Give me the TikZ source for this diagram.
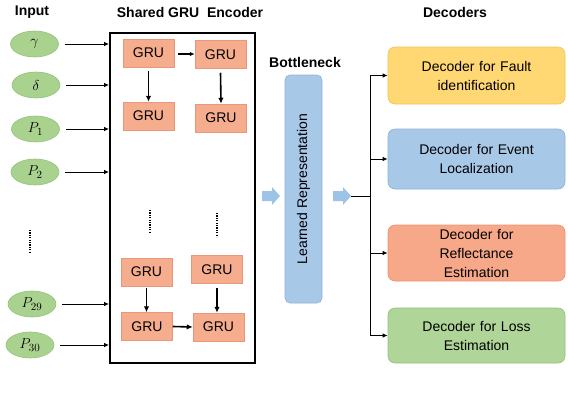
\documentclass[tikz,border=0pt]{standalone}
\usepackage{fontspec}
\setmainfont{Liberation Sans}
\usetikzlibrary{shapes.geometric,arrows.meta}
\definecolor{gruf}{HTML}{F6AD8E}
\definecolor{grud}{HTML}{E9977B}
\definecolor{elf}{HTML}{AAD28F}
\definecolor{eld}{HTML}{93C27B}
\definecolor{ylf}{HTML}{FFD873}
\definecolor{yld}{HTML}{F2C453}
\definecolor{blf}{HTML}{A8C8E8}
\definecolor{bld}{HTML}{8BB2DA}
\definecolor{saf}{HTML}{F6A889}
\definecolor{sad}{HTML}{E99371}
\definecolor{grf}{HTML}{B0D598}
\definecolor{grd}{HTML}{94C17B}
\definecolor{arrf}{HTML}{9DC3E6}
\begin{document}
\begin{tikzpicture}[x=1pt,y=-1pt,
  font=\fontsize{14}{19}\selectfont,
  inp/.style={ellipse, fill=elf, draw=eld, line width=0.6pt, minimum width=48pt, minimum height=26pt, inner sep=0pt, font=\fontsize{15}{17}\selectfont},
  gru/.style={rectangle, fill=gruf, draw=grud, line width=0.5pt, minimum width=51pt, minimum height=28pt, inner sep=0pt},
  dec/.style={rectangle, rounded corners=7pt, minimum width=177pt, minimum height=57pt, align=center, line width=0.6pt, text width=165pt, inner sep=0pt},
  inarr/.style={-{Latex[length=5pt,width=4.5pt]}, line width=1pt},
  grar/.style={-{Latex[length=6pt,width=5.5pt]}, line width=1.6pt},
  title/.style={font=\fontsize{14}{16}\selectfont\bfseries},
  dotline/.style={line width=1.8pt, dash pattern=on 1.2pt off 1.2pt}
]
\useasboundingbox (0,0) rectangle (568,402);

% titles
\node[title] (tin) at (32,12) {Input};
\node[title] (tenc) at (190,12) {Shared GRU\ \ Encoder};
\node[title] (tbot) at (305,62) {Bottleneck};
\node[title] (tdec) at (455,12) {Decoders};

% encoder box
\node[draw, line width=1.8pt, minimum width=145pt, minimum height=330pt, inner sep=0pt] (enc) at (182.5,198) {};

% inputs
\node[inp] (g) at (34.5,44) {$\gamma$};
\node[inp] (d) at (36,85) {$\delta$};
\node[inp] (p1) at (35.5,129) {$P_1$};
\node[inp] (p2) at (35,172) {$P_2$};
\node[inp] (p29) at (32,304) {$P_{29}$};
\node[inp] (p30) at (30,345) {$P_{30}$};
\draw[dotline] (30,230) -- (30,252);

\foreach \n in {g,d,p1,p2,p29,p30}
  \draw[inarr] ([xshift=6pt]\n.east) -- (\n.east -| enc.west);

% GRU cells
\node[gru] (c1) at (148.5,53) {GRU};
\node[gru] (c2) at (220.5,54.5) {GRU};
\node[gru] (c3) at (148.5,116) {GRU};
\node[gru] (c4) at (221,118) {GRU};
\node[gru] (c5) at (146.5,272) {GRU};
\node[gru] (c6) at (217,269.5) {GRU};
\node[gru] (c7) at (147,326.5) {GRU};
\node[gru] (c8) at (218.5,327) {GRU};

\draw[inarr, line width=1.3pt] ([xshift=4pt,yshift=-1pt]c1.east) -- ([yshift=-1pt]c1.east -| c2.west);
\draw[grar] ([yshift=-4pt]c1.south) -- (c3.north);
\draw[grar] ([yshift=-4pt]c2.south) -- (c4.north);
\draw[grar] ([yshift=-2pt]c5.south) -- (c5.south |- c7.north);
\draw[grar] ([yshift=-4pt]c6.south) -- (c6.south |- c8.north);
\draw[grar] (c7.east) -- (c8.west);
\draw[dotline] (150,210) -- (150,233);
\draw[dotline] (217,213) -- (217,237);

% bottleneck
\coordinate (a1) at (262,196);
\fill[arrf, shift={(a1)}] (0,-5) -- (10,-5) -- (10,-9) -- (18,0) -- (10,9) -- (10,5) -- (0,5) -- cycle;
\node[rectangle, rounded corners=5pt, fill=blf, draw=bld, line width=0.6pt, rotate=90, minimum width=228pt, minimum height=37pt, inner sep=0pt] (lr) at (303.5,189) {Learned Representation};
\coordinate (a2) at (333,196);
\fill[arrf, shift={(a2)}] (0,-5) -- (10,-5) -- (10,-9) -- (18,0) -- (10,9) -- (10,5) -- (0,5) -- cycle;
\coordinate (a2e) at (351,196);

% decoders
\node[dec, fill=ylf, draw=yld] (d1) at (476.5,75.5) {Decoder for Fault\\identification};
\node[dec, fill=blf, draw=bld, minimum height=60pt] (d2) at (476.5,159) {Decoder for Event\\Localization};
\node[dec, fill=saf, draw=sad, minimum height=56pt] (d3) at (476.5,253) {Decoder for\\Reflectance\\Estimation};
\node[dec, fill=grf, draw=grd, minimum height=55pt] (d4) at (476.5,335.5) {Decoder for Loss\\Estimation};

\coordinate (j) at (370,196);
\draw[line width=1pt] (a2e) -- (j);
\draw[line width=1pt] (j |- d1) -- (j |- d4);
\foreach \n in {d1,d2,d3,d4}
  \draw[inarr] (j |- \n) -- (\n.west);
\end{tikzpicture}
\end{document}
